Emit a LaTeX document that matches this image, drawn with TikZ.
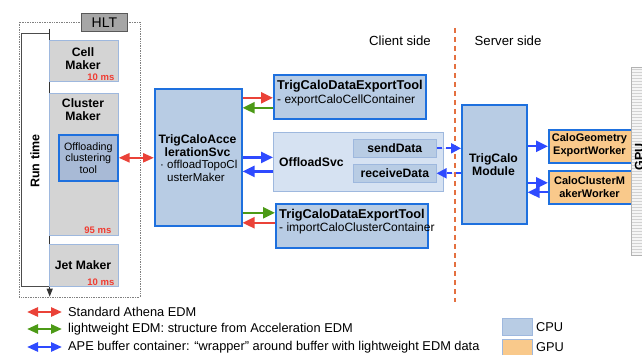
\documentclass[tikz,border=0pt]{standalone}
\usepackage{fontspec}
\setmainfont{Liberation Sans}
\usetikzlibrary{arrows.meta,calc}

\definecolor{cpublue}{RGB}{184,204,228}
\definecolor{gpuorange}{RGB}{249,201,139}
\definecolor{edgeblue}{RGB}{30,112,222}
\definecolor{thinblue}{RGB}{158,184,222}
\definecolor{makergray}{RGB}{212,212,212}
\definecolor{toolblue}{RGB}{168,186,214}
\definecolor{svcpale}{RGB}{214,226,242}
\definecolor{hltgray}{RGB}{166,166,166}
\definecolor{redc}{RGB}{234,66,56}
\definecolor{greenc}{RGB}{76,154,22}
\definecolor{bluec}{RGB}{46,74,255}
\definecolor{msred}{RGB}{240,60,50}
\definecolor{sideorange}{RGB}{228,112,64}

\newcommand\fmain{\fontsize{12.2}{13}\selectfont}
\newcommand\fbig{\fontsize{12.8}{13.5}\selectfont}
\newcommand\fsub{\fontsize{12}{13.5}\selectfont}
\newcommand\fsmall{\fontsize{10.7}{11.5}\selectfont}
\newcommand\fms{\fontsize{9.5}{10}\selectfont}

\begin{document}
\begin{tikzpicture}[x=1pt,y=1pt,yscale=-1,
  maker/.style={draw=thinblue,line width=0.6pt,fill=makergray,anchor=north west,inner sep=0pt},
  bluebox/.style={draw=edgeblue,line width=1.6pt,fill=cpublue,anchor=north west,inner sep=0pt},
  gpubox/.style={bluebox,fill=gpuorange},
  subbox/.style={draw=thinblue,line width=0.6pt,fill=cpublue,anchor=north west,inner sep=0pt},
  btxt/.style={font=\fmain\bfseries,inner sep=0pt,align=center},
  ptxt/.style={font=\fsub,inner sep=0pt},
  mstxt/.style={font=\fms\bfseries,text=msred,inner sep=1pt,anchor=south east},
  tip/.style={-{Triangle[length=12pt,width=11pt]}},
  bothtip/.style={{Triangle[length=11pt,width=9pt]}-{Triangle[length=11pt,width=9pt]}},
  redarr/.style={tip,draw=redc,fill=redc,line width=2.4pt},
  greenarr/.style={tip,draw=greenc,fill=greenc,line width=2.4pt},
  bluearr/.style={tip,draw=bluec,fill=bluec,line width=2.4pt},
  dasharr/.style={bluearr,-{Triangle[length=10pt,width=10pt]},dash pattern=on 5pt off 4pt}]
\useasboundingbox (0,0) rectangle (642,355);

% HLT frame
\draw[gray,densely dotted,line width=0.7pt] (19,22) rectangle (140,297);
\node[draw=gray!70!black,fill=hltgray,line width=0.8pt,minimum width=46,minimum height=18,inner sep=0pt,anchor=north west,font=\fontsize{14}{15}\selectfont] (hlt) at (81,13) {HLT};

% Run time
\node[draw=gray!60!black,line width=0.7pt,fill=white,minimum width=28,minimum height=253,inner sep=0pt,anchor=north west] (rt) at (21,33) {};
\node[btxt,rotate=90,font=\fontsize{12.5}{14}\selectfont\bfseries] (rtT) at (35,161) {Run time};
\coordinate (rtA) at ($(rt.north east)+(0,-4)$);
\coordinate (rtB) at ($(rt.south east)+(0,10)$);
\draw[-{Triangle[length=8pt,width=6pt]},line width=1pt,black!80] (rtA) -- (rtB);

% Makers
\node[maker,minimum width=69,minimum height=41] (cell) at (49,40) {};
\node[btxt] (cellT) at (83,59) {Cell\\Maker};
\node[mstxt] (cellMs) at ($(cell.south east)+(-3,0)$) {10 ms};
\node[maker,minimum width=69,minimum height=142] (clu) at (49,93) {};
\node[btxt] (cluT) at (83,110) {Cluster\\Maker};
\node[mstxt] (cluMs) at ($(clu.south east)+(-6,-1)$) {95 ms};
\node[maker,minimum width=69,minimum height=42] (jet) at (49,244) {};
\node[btxt] (jetT) at (83,265) {Jet Maker};
\node[mstxt] (jetMs) at ($(jet.south east)+(-3,0)$) {10 ms};

% Offloading tool
\node[bluebox,fill=toolblue,minimum width=59,minimum height=46,align=center,font=\fsmall] (tool) at (58,134) {Offloading\\clustering\\tool};

% Acceleration service
\node[bluebox,minimum width=87,minimum height=137] (svc) at (154,88) {};
\node[btxt] (svcT) at (197.5,145.5) {TrigCaloAcce\\lerationSvc};
\node[ptxt,anchor=west,align=left,font=\fontsize{11.5}{12.5}\selectfont] (svcS) at (160,171) {\textperiodcentered\ offloadTopoCl\\\phantom{\textperiodcentered\ }usterMaker};

% Export tools
\node[bluebox,minimum width=152,minimum height=44] (expA) at (273,74) {};
\node[ptxt,anchor=west,align=left] (expAT) at (277,93) {{\fbig\bfseries TrigCaloDataExportTool}\\- exportCaloCellContainer};
\node[bluebox,minimum width=152,minimum height=44] (expB) at (275,203) {};
\node[ptxt,anchor=west,align=left] (expBT) at (279,221.5) {{\fbig\bfseries TrigCaloDataExportTool}\\- importCaloClusterContainer};

% Offload service
\node[draw=thinblue,line width=0.8pt,fill=svcpale,minimum width=170,minimum height=59,inner sep=0pt,anchor=north west] (off) at (273,132) {};
\node[btxt,anchor=west] (offT) at (279,162) {OffloadSvc};
\node[subbox,minimum width=83,minimum height=18,font=\fmain\bfseries] (send) at (353,139) {sendData};
\node[subbox,minimum width=83,minimum height=18,font=\fmain\bfseries] (recv) at (353,164) {receiveData};

% Client / server
\node[ptxt,font=\fontsize{13.2}{14}\selectfont] (client) at (400,41) {Client side};
\node[ptxt,font=\fontsize{13.2}{14}\selectfont] (server) at (508,41) {Server side};
\coordinate (sepA) at (455,28);
\coordinate (sepB) at (455,302);
\draw[sideorange,line width=2pt,dash pattern=on 5pt off 4pt] (sepA) -- (sepB);

% Server side boxes
\node[bluebox,minimum width=65,minimum height=119] (mod) at (461,104) {};
\node[btxt] (modT) at (493.5,164.5) {TrigCalo\\Module};
\node[gpubox,minimum width=83,minimum height=33] (geo) at (548,129) {};
\node[btxt,font=\fontsize{11}{13}\selectfont\bfseries] (geoT) at (589.5,145.5) {CaloGeometry\\ExportWorker};
\node[gpubox,minimum width=83,minimum height=33] (cmw) at (548,170) {};
\node[btxt,font=\fontsize{11}{13}\selectfont\bfseries] (cmwT) at (589.5,187.5) {CaloClusterM\\akerWorker};

% GPU device (cut off at the page edge)
\fill[gray!8] (631,67) rectangle (660,255);
\foreach \i in {0,...,62}
  \draw[gray!35,line width=0.4pt] (632,{69+3*\i}) -- (660,{69+3*\i});
\draw[gray!60,line width=0.6pt] (631,67) rectangle (660,255);
\node[btxt,rotate=90,anchor=south,font=\fontsize{12.5}{14}\selectfont\bfseries] (gpuT) at (644,157) {GPU};

% Arrows client side
\draw[bothtip,draw=redc,fill=redc,line width=2.4pt] (tool.east) -- (svc.west |- tool.east);
\coordinate (r1) at ($(expA.west)+(0,1)$);
\coordinate (g1) at ($(expA.west)+(0,11)$);
\draw[redarr] (svc.east |- r1) -- (r1);
\draw[greenarr] (g1) -- (svc.east |- g1);
\coordinate (b1) at ($(off.west)+(0,-4.5)$);
\coordinate (b2) at ($(off.west)+(0,9.5)$);
\draw[bluearr] (svc.east |- b1) -- (b1);
\draw[bluearr] (b2) -- (svc.east |- b2);
\coordinate (g2) at ($(expB.west)+(0,-13)$);
\coordinate (r2) at ($(expB.west)+(0,-3)$);
\draw[greenarr] (svc.east |- g2) -- (g2);
\draw[redarr] (r2) -- (svc.east |- r2);

% Arrows across
\draw[dasharr,line width=2pt] (send.east) -- (mod.west |- send.east);
\draw[dasharr,line width=2pt] (mod.west |- recv.east) -- (recv.east);
\draw[bluearr] (mod.east |- geo.west) -- (geo.west);
\coordinate (b3) at ($(cmw.west)+(0,-4.5)$);
\coordinate (b4) at ($(cmw.west)+(0,5)$);
\draw[bluearr] (mod.east |- b3) -- (b3);
\draw[bluearr] (b4) -- (mod.east |- b4);

% Legend
\node[ptxt,font=\fbig,anchor=west] (legR) at (68,312) {Standard Athena EDM};
\node[ptxt,font=\fbig,anchor=west] (legG) at (68,329) {lightweight EDM: structure from Acceleration EDM};
\node[ptxt,font=\fbig,anchor=west] (legB) at (68,347) {APE buffer container: ``wrapper'' around buffer with lightweight EDM data};
\foreach \n/\c in {legR/redc,legG/greenc,legB/bluec}
  \draw[bothtip,draw=\c,fill=\c,line width=2.6pt] ($(\n.west)+(-41,0)$) -- ($(\n.west)+(-6,0)$);
\node[draw=thinblue,line width=0.8pt,fill=cpublue,minimum width=30,minimum height=17,inner sep=0pt,anchor=north west] (cpuK) at (502,318) {};
\node[ptxt,font=\fbig,anchor=west] (cpuL) at (536,327) {CPU};
\node[draw=thinblue,line width=0.8pt,fill=gpuorange,minimum width=30,minimum height=20,inner sep=0pt,anchor=north west] (gpuK) at (502,339) {};
\node[ptxt,font=\fbig,anchor=west] (gpuL) at (536,347) {GPU};

\end{tikzpicture}
\end{document}
